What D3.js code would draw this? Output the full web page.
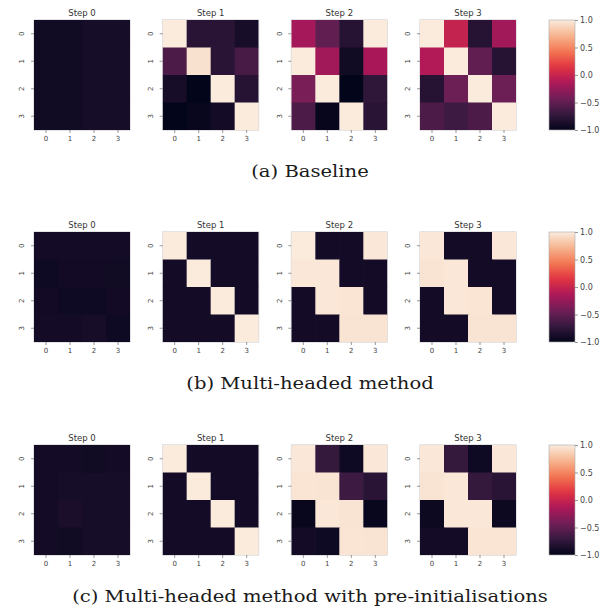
<!DOCTYPE html>
<html>
<head>
<meta charset="utf-8">
<script src="https://cdn.jsdelivr.net/npm/d3@7"></script>
<style>
  body { margin: 0; background: #fff; }
  .tick text { fill: #444; }
  .caption { font-family: "DejaVu Serif", serif; }
</style>
</head>
<body>
<div id="container"></div>
<script>
var width = 603;
var height = 608;

var stepNames = ["Step 0", "Step 1", "Step 2", "Step 3"];
var heads = [0, 1, 2, 3];
var captions = ["(a) Baseline", "(b) Multi-headed method", "(c) Multi-headed method with pre-initialisations"];
var cbarTicks = [-1, -0.5, 0, 0.5, 1];

// (a) baseline, one 4x4 matrix per step
var baseline = [
  [[-0.92, -0.92, -0.89, -0.89], [-0.92, -0.92, -0.89, -0.89], [-0.92, -0.92, -0.89, -0.89], [-0.92, -0.92, -0.89, -0.89]],
  [[1.0, -0.78, -0.78, -0.88], [-0.6, 0.95, -0.78, -0.62], [-0.88, -1.0, 1.0, -0.8], [-1.0, -0.97, -0.9, 1.0]],
  [[-0.18, -0.5, -0.8, 1.0], [1.0, -0.2, -0.92, -0.16], [-0.38, 1.0, -1.0, -0.75], [-0.6, -0.98, 1.0, -0.78]],
  [[1.0, -0.02, -0.8, -0.2], [-0.12, 1.0, -0.5, -0.8], [-0.8, -0.45, 1.0, -0.45], [-0.6, -0.68, -0.6, 1.0]]
];

// (b) multi-headed
var multiHeaded = [
  [[-0.9, -0.9, -0.9, -0.9], [-0.93, -0.91, -0.91, -0.92], [-0.91, -0.93, -0.93, -0.91], [-0.9, -0.9, -0.88, -0.93]],
  [[1.0, -0.9, -0.9, -0.9], [-0.9, 1.0, -0.9, -0.9], [-0.9, -0.9, 1.0, -0.9], [-0.9, -0.9, -0.9, 1.0]],
  [[1.0, -0.9, -0.9, 0.98], [0.98, 0.98, -0.9, -0.9], [-0.9, 0.98, 0.97, -0.9], [-0.9, -0.9, 0.96, 0.96]],
  [[0.98, -0.9, -0.9, 0.98], [0.96, 0.98, -0.9, -0.9], [-0.9, 0.98, 0.97, -0.9], [-0.9, -0.9, 0.96, 0.96]]
];

// (c) multi-headed with pre-initialisations
var preInit = [
  [[-0.9, -0.9, -0.92, -0.9], [-0.9, -0.89, -0.89, -0.89], [-0.9, -0.87, -0.89, -0.89], [-0.9, -0.92, -0.89, -0.89]],
  [[1.0, -0.9, -0.9, -0.9], [-0.9, 1.0, -0.9, -0.9], [-0.9, -0.9, 1.0, -0.9], [-0.9, -0.9, -0.9, 1.0]],
  [[0.98, -0.72, -0.93, 0.98], [0.97, 0.96, -0.68, -0.78], [-0.97, 0.98, 0.96, -0.97], [-0.9, -0.93, 0.97, 0.96]],
  [[0.98, -0.72, -0.93, 0.98], [0.96, 0.98, -0.72, -0.78], [-0.95, 0.98, 0.98, -0.95], [-0.9, -0.9, 0.97, 0.97]]
];

var figures = [baseline, multiHeaded, preInit];

// seaborn "rocket" colormap, sampled
var rocket = ["#03051a", "#35193e", "#701f57", "#ad1759", "#e13342", "#f37651", "#f6b48f", "#faebdd"];
var colorScale = d3.scaleLinear()
  .domain(rocket.map((c, i) => -1 + 2 * i / (rocket.length - 1)))
  .range(rocket)
  .interpolate(d3.interpolateRgb)
  .clamp(true);

var panelW = 96, panelH = 110;
var rowTop = [20, 232, 445];
var panelX = d3.scaleLinear().domain([0, 3]).range([34, 420]);
var cbarX = 549, cbarW = 26;
var captionX = 310;

const SVG = d3.select("#container")
  .append("svg")
  .attr("width", width)
  .attr("height", height)
  .style("font-family", "'DejaVu Sans', sans-serif");

var x = d3.scaleBand().domain(heads).range([0, panelW]);
var y = d3.scaleBand().domain(heads).range([0, panelH]);

var defs = SVG.append("defs");
var grad = defs.append("linearGradient")
  .attr("id", "rocket")
  .attr("x1", 0).attr("y1", 1).attr("x2", 0).attr("y2", 0);
grad.selectAll("stop")
  .data(d3.range(0, 1.0001, 0.05))
  .enter()
  .append("stop")
  .attr("offset", d => d)
  .attr("stop-color", d => colorScale(-1 + 2 * d));

figures.forEach(function(steps, r) {
  var top = rowTop[r];

  steps.forEach(function(mat, s) {
    var g = SVG.append("g")
      .attr("transform", `translate(${panelX(s)},${top})`);

    var cells = [];
    mat.forEach((row, i) => row.forEach((v, j) => cells.push({i: i, j: j, v: v})));

    g.selectAll("rect.cell")
      .data(cells)
      .enter()
      .append("rect")
      .attr("class", "cell")
      .attr("x", d => x(d.j))
      .attr("y", d => y(d.i))
      .attr("width", d => x.bandwidth() + (d.j < 3 ? 0.6 : 0))
      .attr("height", d => y.bandwidth() + (d.i < 3 ? 0.6 : 0))
      .attr("fill", d => colorScale(d.v));

    g.append("rect")
      .attr("x", -0.25).attr("y", -0.25)
      .attr("width", panelW + 0.5)
      .attr("height", panelH + 0.5)
      .attr("fill", "none")
      .attr("stroke", "#c8c8c8")
      .attr("stroke-width", 0.5);

    g.append("text")
      .attr("x", panelW / 2)
      .attr("y", -4)
      .attr("text-anchor", "middle")
      .attr("font-size", "8.5px")
      .attr("fill", "#333")
      .text(stepNames[s]);

    var xAxis = g.append("g")
      .attr("transform", `translate(0,${panelH})`)
      .call(d3.axisBottom(x).tickSize(3).tickPadding(3));
    xAxis.select(".domain").remove();
    xAxis.selectAll("line").attr("stroke", "#555").attr("stroke-width", 0.6);
    xAxis.selectAll("text").attr("font-size", "7px").attr("font-family", "'DejaVu Sans', sans-serif");

    var yAxis = g.append("g")
      .call(d3.axisLeft(y).tickSize(3).tickPadding(5));
    yAxis.select(".domain").remove();
    yAxis.selectAll("line").attr("stroke", "#555").attr("stroke-width", 0.6);
    yAxis.selectAll("text")
      .attr("font-size", "7px")
      .attr("font-family", "'DejaVu Sans', sans-serif")
      .attr("text-anchor", "middle")
      .attr("x", 0)
      .attr("dy", "0.35em")
      .attr("transform", "translate(-12,0) rotate(-90)");
  });

  // colorbar
  var cb = SVG.append("g").attr("transform", `translate(${cbarX},${top})`);
  cb.append("rect")
    .attr("width", cbarW)
    .attr("height", panelH)
    .attr("fill", "url(#rocket)")
    .attr("stroke", "#aaa")
    .attr("stroke-width", 0.6);
  var cy = d3.scaleLinear().domain([-1, 1]).range([panelH, 0]);
  var cAxis = cb.append("g")
    .attr("transform", `translate(${cbarW},0)`)
    .call(d3.axisRight(cy).tickValues(cbarTicks).tickFormat(d3.format(".1f")).tickSize(3).tickPadding(2));
  cAxis.select(".domain").remove();
  cAxis.selectAll("line").attr("stroke", "#555").attr("stroke-width", 0.6);
  cAxis.selectAll("text").attr("font-size", "8px").attr("font-family", "'DejaVu Sans', sans-serif");

  // caption, widened a little to mimic the LaTeX serif
  SVG.append("text")
    .attr("class", "caption")
    .attr("transform", `translate(${captionX},${top + 157}) scale(1.12,1)`)
    .attr("text-anchor", "middle")
    .attr("font-size", "17.5px")
    .attr("fill", "#1a1a1a")
    .text(captions[r]);
});
</script>
</body>
</html>
